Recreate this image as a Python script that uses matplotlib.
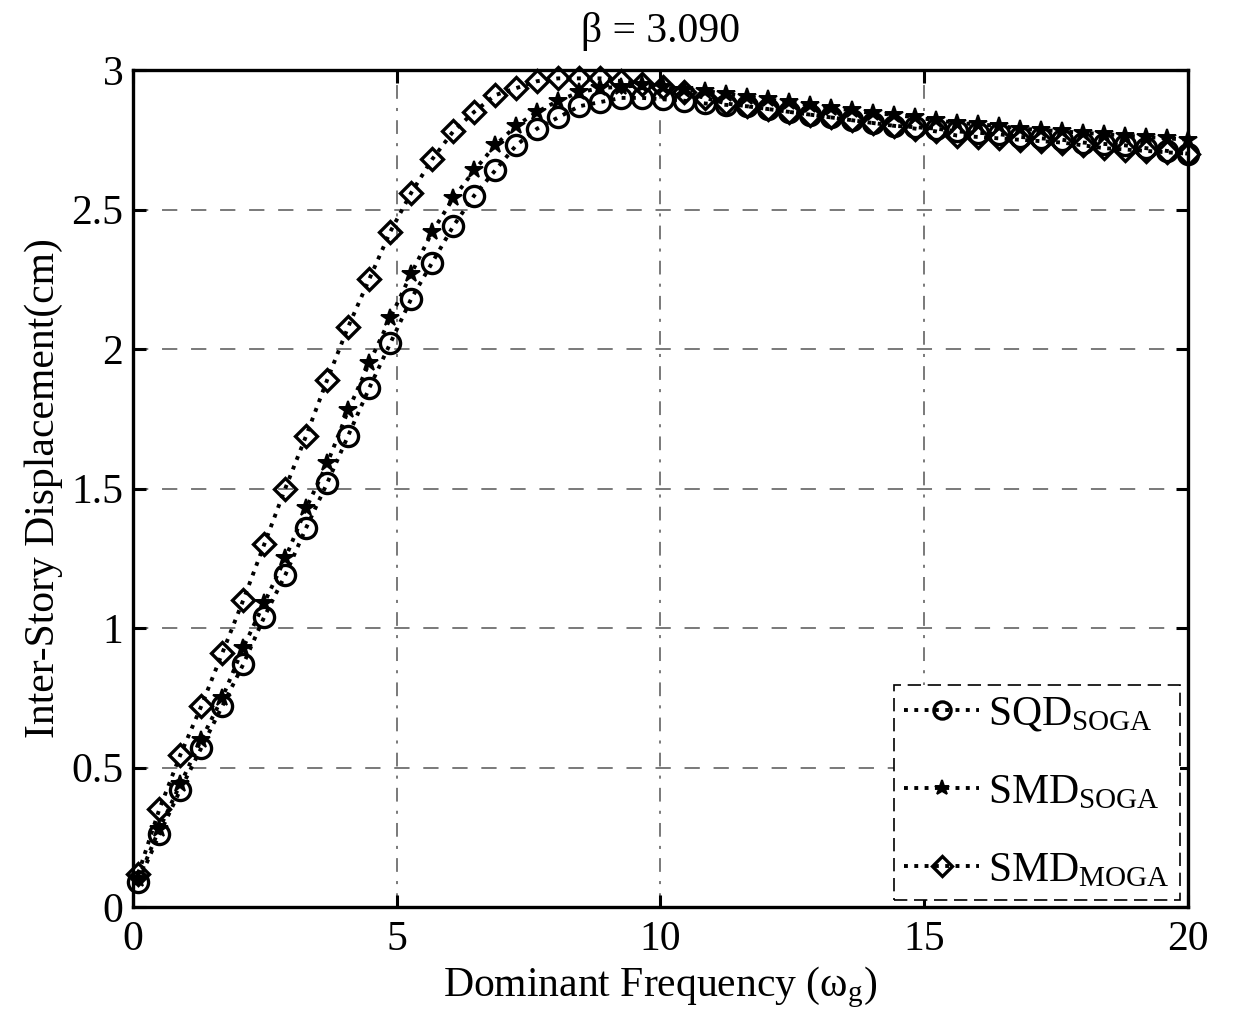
import numpy as np
import matplotlib
matplotlib.use("Agg")
import matplotlib.pyplot as plt

plt.rcParams['font.family'] = ['Liberation Serif', 'DejaVu Serif']
plt.rcParams['mathtext.fontset'] = 'custom'
plt.rcParams['mathtext.rm'] = 'Liberation Serif'
plt.rcParams['mathtext.it'] = 'Liberation Serif:italic'

# Dominant frequency sample points
freq = [0.100, 0.498, 0.896, 1.294, 1.692, 2.090, 2.488, 2.886, 3.284, 3.682,
        4.080, 4.478, 4.876, 5.274, 5.672, 6.070, 6.468, 6.866, 7.264, 7.662,
        8.060, 8.458, 8.856, 9.254, 9.652, 10.050, 10.448, 10.846, 11.244, 11.642,
        12.040, 12.438, 12.836, 13.234, 13.632, 14.030, 14.428, 14.826, 15.224, 15.622,
        16.020, 16.418, 16.816, 17.214, 17.612, 18.010, 18.408, 18.806, 19.204, 19.602,
        20.000]

sqd_soga = [0.09, 0.26, 0.42, 0.57, 0.72, 0.87, 1.04, 1.19, 1.36, 1.52,
            1.69, 1.86, 2.02, 2.18, 2.31, 2.44, 2.55, 2.64, 2.73, 2.79,
            2.83, 2.87, 2.885, 2.90, 2.90, 2.895, 2.89, 2.88, 2.875, 2.87,
            2.86, 2.85, 2.84, 2.83, 2.82, 2.81, 2.80, 2.795, 2.79, 2.78,
            2.775, 2.77, 2.76, 2.755, 2.75, 2.74, 2.735, 2.73, 2.72, 2.71,
            2.70]

smd_soga = [0.10, 0.28, 0.44, 0.60, 0.75, 0.93, 1.09, 1.25, 1.43, 1.59,
            1.78, 1.95, 2.11, 2.27, 2.42, 2.54, 2.64, 2.73, 2.80, 2.85,
            2.89, 2.92, 2.935, 2.94, 2.945, 2.94, 2.93, 2.925, 2.915, 2.905,
            2.895, 2.885, 2.875, 2.865, 2.855, 2.845, 2.84, 2.83, 2.82, 2.81,
            2.805, 2.80, 2.79, 2.785, 2.78, 2.775, 2.77, 2.765, 2.76, 2.755,
            2.75]

smd_moga = [0.12, 0.35, 0.545, 0.72, 0.91, 1.10, 1.30, 1.50, 1.69, 1.89,
            2.08, 2.25, 2.42, 2.56, 2.68, 2.78, 2.85, 2.91, 2.935, 2.96,
            2.97, 2.97, 2.97, 2.96, 2.95, 2.94, 2.92, 2.90, 2.88, 2.87,
            2.86, 2.85, 2.84, 2.83, 2.82, 2.81, 2.80, 2.79, 2.78, 2.765,
            2.76, 2.755, 2.75, 2.745, 2.74, 2.73, 2.72, 2.715, 2.71, 2.705,
            2.70]

xticks = [0, 5, 10, 15, 20]
yticks = [0, 0.5, 1, 1.5, 2, 2.5, 3]
ytick_labels = ['0', '0.5', '1', '1.5', '2', '2.5', '3']

title = 'β = 3.090'
xlabel = 'Dominant Frequency (ω$_{\\mathrm{g}}$)'
ylabel = 'Inter-Story Displacement(cm)'
labels = ['SQD$_{\\mathrm{SOGA}}$', 'SMD$_{\\mathrm{SOGA}}$', 'SMD$_{\\mathrm{MOGA}}$']

fig = plt.figure(figsize=(12.34, 10.25), dpi=100)
ax = fig.add_axes([0.1078, 0.1151, 0.8549, 0.8166])

fs = 30
ax.plot(freq, sqd_soga, linestyle=':', color='black', linewidth=2.8,
        marker='o', markersize=14.5, markerfacecolor='none', markeredgecolor='black',
        markeredgewidth=2.4, label=labels[0], clip_on=False, zorder=3)
ax.plot(freq, smd_soga, linestyle=':', color='black', linewidth=2.8,
        marker='*', markersize=13, markerfacecolor='black', markeredgecolor='black',
        markeredgewidth=1.4, label=labels[1], clip_on=False, zorder=3)
ax.plot(freq, smd_moga, linestyle=':', color='black', linewidth=2.8,
        marker='D', markersize=11.5, markerfacecolor='none', markeredgecolor='black',
        markeredgewidth=2.4, label=labels[2], clip_on=False, zorder=3)

ax.set_xlim(0, 20)
ax.set_ylim(0, 3)
ax.set_xticks(xticks)
ax.set_xticklabels([str(t) for t in xticks])
ax.set_yticks(yticks)
ax.set_yticklabels(ytick_labels)

ax.xaxis.grid(True, linestyle=(0, (9, 6, 2, 6)), color='#555555', linewidth=1.1)
ax.yaxis.grid(True, linestyle=(0, (10, 9)), color='#555555', linewidth=1.1)
ax.set_axisbelow(True)

for s in ax.spines.values():
    s.set_linewidth(2.4)
ax.tick_params(direction='in', length=9, width=2.2, top=True, right=True,
               labelsize=fs)
ax.tick_params(axis='x', pad=10)
ax.tick_params(axis='y', pad=7)

ax.set_title(title, fontsize=fs, pad=20)
ax.set_xlabel(xlabel, fontsize=fs, labelpad=4)
ax.set_ylabel(ylabel, fontsize=fs, labelpad=6)

leg = ax.legend(loc='lower right', bbox_to_anchor=(0.992, 0.008), borderaxespad=0,
                fontsize=fs, numpoints=1, handlelength=1.8, handletextpad=0.2,
                labelspacing=0.95, fancybox=False, framealpha=1, borderpad=0.25,
                markerscale=0.85)
leg.get_frame().set_edgecolor('black')
leg.get_frame().set_linewidth(1.2)
leg.get_frame().set_linestyle((0, (8, 4)))

fig.savefig('out.png', dpi=100)
